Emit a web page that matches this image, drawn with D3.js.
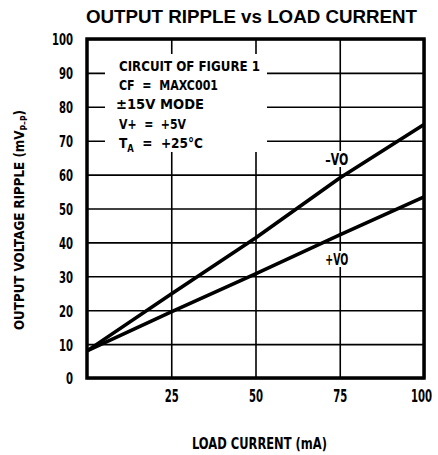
<!DOCTYPE html>
<meta charset="utf-8">
<script src="https://d3js.org/d3.v7.min.js"></script>
<style>
  body { margin: 0; background: #fff; }
  text { font-family: "DejaVu Sans Condensed", "DejaVu Sans", sans-serif; font-weight: bold; fill: #000; }
</style>
<div id="chart"></div>
<script>
// values
var current = [0, 25, 50, 75, 100];            // mA
var negVo = [8, 24.8, 41.3, 59, 74.8];          // mVp-p
var posVo = [8, 19.5, 30.7, 42.2, 53.4];
var xTicks = [25, 50, 75, 100];
var yTicks = [0, 10, 20, 30, 40, 50, 60, 70, 80, 90, 100];
var notes = ["CIRCUIT OF FIGURE 1", "CF  =  MAXC001", "\u00B115V MODE", "V+  =  +5V", "TA  =  +25\u00B0C"];
var noteWidths = [141, 99, 88, 67, 84];

var W = 438, H = 455;
var x0 = 87, x1 = 424, y0 = 378, y1 = 39;

var svg = d3.select("#chart").append("svg")
    .attr("width", W).attr("height", H);

var x = d3.scaleLinear().domain([0, 100]).range([x0, x1]);
var y = d3.scaleLinear().domain([0, 100]).range([y0, y1]);

// squeeze text horizontally (the reference uses a condensed face)
function squeeze(sel, f) {
  sel.each(function() {
    var n = this.getComputedTextLength();
    d3.select(this).attr("textLength", n * f).attr("lengthAdjust", "spacingAndGlyphs");
  });
}
function fit(sel, w) {
  sel.attr("textLength", w).attr("lengthAdjust", "spacingAndGlyphs");
}

// grid + y labels
svg.append("g")
    .attr("transform", "translate(" + x0 + ",0)")
    .call(d3.axisLeft(y).tickValues(yTicks).tickSize(-(x1 - x0)).tickPadding(14))
    .call(function(g) {
      g.select(".domain").remove();
      g.selectAll("line").attr("stroke", "#000").attr("stroke-width", 1.6);
      g.selectAll("text").style("font-size", "16.5px").attr("dy", "0.36em").call(squeeze, 0.68);
    });

var sx = 0.66;
svg.append("g")
    .attr("transform", "translate(0," + y0 + ")")
    .call(d3.axisBottom(x).tickValues(xTicks).tickSize(-(y0 - y1)).tickPadding(12))
    .call(function(g) {
      g.select(".domain").remove();
      g.selectAll("line").attr("stroke", "#000").attr("stroke-width", 1.6);
      g.selectAll("text").style("font-size", "17px")
          .attr("transform", "scale(" + sx + ",1)")
          .attr("x", function(d) { return (d === 100 ? -3 : 0) / sx; });
    });

// white area behind the notes
svg.append("rect")
    .attr("x", 105).attr("y", 54).attr("width", 162).attr("height", 98)
    .attr("fill", "#fff");

// white gaps behind the curve labels
[64.6, 35.1].forEach(function(v) {
  svg.append("rect")
      .attr("x", x(75) - 16).attr("y", y(v) - 8)
      .attr("width", 28).attr("height", 16)
      .attr("fill", "#fff");
});

// curves
var line = d3.line()
    .x(function(d, i) { return x(current[i]); })
    .y(function(d) { return y(d); });

[negVo, posVo].forEach(function(s) {
  svg.append("path")
      .attr("d", line(s))
      .attr("fill", "none")
      .attr("stroke", "#000")
      .attr("stroke-width", 3.6)
      .attr("stroke-linejoin", "round");
});

// frame
svg.append("rect")
    .attr("x", x0).attr("y", y1)
    .attr("width", x1 - x0).attr("height", y0 - y1)
    .attr("fill", "none").attr("stroke", "#000").attr("stroke-width", 3.5);

// curve labels
[[64.6, "\u2013VO"], [35.1, "+VO"]].forEach(function(d) {
  svg.append("text").attr("x", x(75) - 3).attr("y", y(d[0]) + 6)
      .attr("text-anchor", "middle").style("font-size", "16px")
      .text(d[1]).call(fit, 23);
});

// notes block
notes.forEach(function(s, i) {
  var t = svg.append("text")
      .attr("x", i === 2 ? 116 : 119).attr("y", 71 + i * 19.2)
      .style("font-size", i === 2 ? "13.5px" : "14.5px")
      .style("white-space", "pre");
  if (s.indexOf("TA") === 0) {
    t.append("tspan").text("T");
    t.append("tspan").attr("dy", 4).style("font-size", "10px").text("A");
    t.append("tspan").attr("dy", -4).text(s.slice(2));
  } else {
    t.text(s);
  }
  t.call(fit, noteWidths[i]);
});

// title
svg.append("text")
    .attr("x", 251.5).attr("y", 23)
    .attr("text-anchor", "middle")
    .style("font-family", "'Liberation Sans', Arial, sans-serif")
    .style("font-size", "18px")
    .text("OUTPUT RIPPLE vs LOAD CURRENT")
    .call(fit, 331);

// axis titles
svg.append("text")
    .attr("x", 259.5).attr("y", 449)
    .attr("text-anchor", "middle")
    .style("font-size", "16px")
    .text("LOAD CURRENT (mA)")
    .call(fit, 135);

var yt = svg.append("text")
    .attr("transform", "translate(24,220) rotate(-90)")
    .attr("text-anchor", "middle")
    .style("font-size", "14px");
yt.append("tspan").text("OUTPUT VOLTAGE RIPPLE (mV");
yt.append("tspan").attr("dy", 3).style("font-size", "9px").text("P\u2013P");
yt.append("tspan").attr("dy", -3).text(")");
yt.call(fit, 220);
</script>
